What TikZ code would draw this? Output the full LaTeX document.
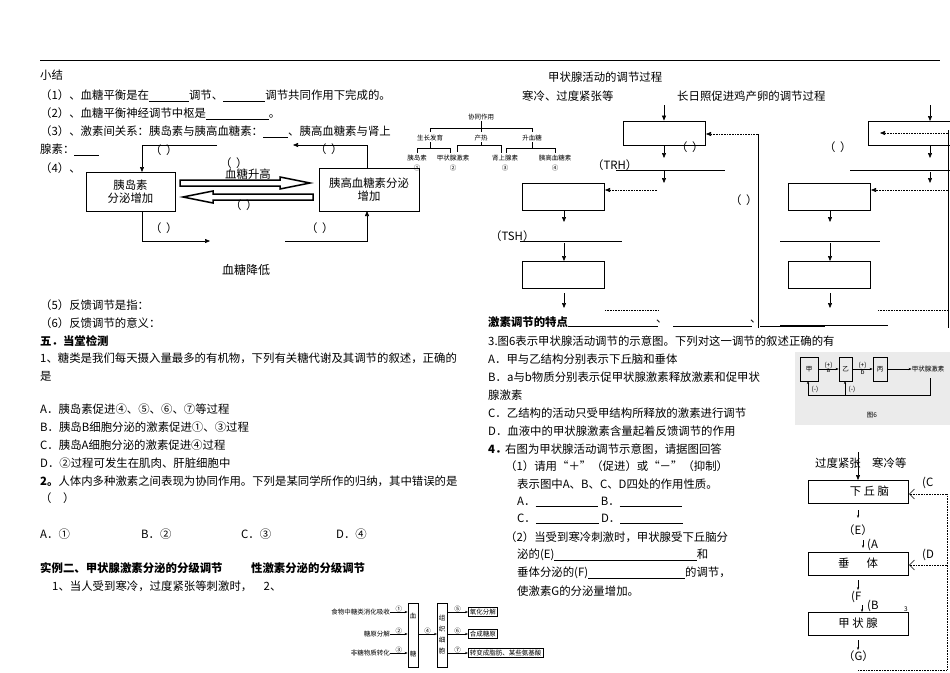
\documentclass[tikz,border=0pt]{standalone}
\usepackage{fontspec}
\setmainfont{Noto Sans CJK SC}
\usetikzlibrary{arrows.meta}
\newcommand{\fs}{\fontsize{11.4}{13}\selectfont}
\begin{document}
\begin{tikzpicture}[x=1pt,y=-1pt,
  t/.style={anchor=west,inner sep=0pt,font=\fs},
  s/.style={inner sep=0pt,font=\fontsize{6.5}{8}\selectfont},
  bx/.style={draw,line width=0.8pt,inner sep=0pt},
  ar/.style={-{Triangle[length=5pt,width=4pt]},line width=0.6pt},
  dar/.style={densely dotted,-{Triangle[length=5pt,width=4pt]},line width=0.6pt},
  sa/.style={-{Stealth[length=3pt]},line width=0.4pt}]
\useasboundingbox (0,0) rectangle (950,672);
\draw[line width=1pt] (40,60) -- (940,60);
% left text
\node[t] (l1) at (40,75) {小结};
\node[t] at (40,96) {（1）、血糖平衡是在\underline{\hspace{3.5em}}调节、\underline{\hspace{3.7em}}调节共同作用下完成的。};
\node[t] at (40,114) {（2）、血糖平衡神经调节中枢是\underline{\hspace{5.5em}}。};
\node[t] at (40,132) {（3）、激素间关系：胰岛素与胰高血糖素：\underline{\hspace{2.2em}}、胰高血糖素与肾上};
\node[t] at (40,150) {腺素：\underline{\hspace{2.2em}}};
\node[t] at (40,168) {（4）、};
% diagram 1
\node[bx,minimum width=89,minimum height=39,align=center,font=\fs] (ins) at (130.5,191.5) {胰岛素\\分泌增加};
\node[bx,minimum width=100,minimum height=43,align=center,font=\fs] (glu) at (369,189.5) {胰高血糖素分泌\\增加};
\coordinate (ul) at (217,145);
\draw[ar] (ul) -- (142,145) -- (142,172);
\node[t] at (150,150) {（\ \,）};
\coordinate (ur) at (293,145);
\draw[ar] (367,168) -- (367,145) -- (ur);
\node[t] at (315,149) {（\ \,）};
\draw[line width=1.5pt] (180,180)--(280,180)--(280,177)--(310,183)--(280,189)--(280,186)--(180,186)--cycle;
\draw[line width=1.5pt] (313,194)--(213,194)--(213,191)--(183,197)--(213,203)--(213,200)--(313,200)--cycle;
\node[t,font=\fs\itshape] at (225,174) {血糖升高};
\node[t] at (230,205) {（\ \,）};
\node[t] at (220,163) {（\ \,）};
\coordinate (bl) at (210,241);
\draw[ar] (142,211) -- (142,241) -- (bl);
\node[t] at (150,228) {（\ \,）};
\coordinate (br) at (285,241);
\draw[ar] (br) -- (367,241) -- (367,211);
\node[t] at (306,228) {（\ \,）};
\node[t,font=\fontsize{12}{13}\selectfont\itshape] at (222,270) {血糖降低};
% coordination tree
\node[s] (xt) at (481,117) {协同作用};
\draw[line width=0.4pt] (430,128)--(532,128) (430,128)--(430,132) (532,128)--(532,132) (481,121)--(481,132);
\node[s] (g1) at (430,138) {生长发育};
\node[s] (g2) at (481,138) {产热};
\node[s] (g3) at (532,138) {升血糖};
\draw[line width=0.4pt] (417,148)--(450,148) (417,148)--(417,153) (450,148)--(450,153) (430,142)--(430,148);
\draw[line width=0.4pt] (457,145)--(501,145) (457,145)--(457,152) (501,145)--(501,153) (481,142)--(481,145);
\draw[line width=0.4pt] (506,148)--(555,148) (506,148)--(506,153) (555,148)--(555,153) (532,142)--(532,148);
\node[s] at (417,158) {胰岛素}; \node[s] at (417,168) {①};
\node[s] at (453,158) {甲状腺激素}; \node[s] at (453,168) {②};
\node[s] at (505,158) {肾上腺素}; \node[s] at (505,168) {③};
\node[s] at (555,158) {胰高血糖素}; \node[s] at (555,168) {④};
% right top flowcharts
\node[t] at (548,77) {甲状腺活动的调节过程};
\node[t] at (522,96) {寒冷、过度紧张等};
\node[t] at (677,96) {长日照促进鸡产卵的调节过程};
\node[bx,minimum width=82,minimum height=24] (a1) at (664,133) {};
\node[bx,minimum width=82,minimum height=27] (a2) at (563,196.5) {};
\node[bx,minimum width=82,minimum height=27] (a3) at (563,274.5) {};
\draw[ar] (664,105) -- (a1.north);
\draw[ar] (a1.south) -- (664,158);
\node[t] at (676,147) {（\ \,）};
\node[t] at (592,165) {（TRH）};
\draw[line width=0.6pt] (616,170)--(725,170);
\draw[ar] (664,170)--(664,183);
\coordinate (d1) at (657,190);
\draw[dar] (d1) -- (605,190);
\draw[ar] (564,210)--(564,222);
\node[t] at (490,236) {（TSH）};
\draw[line width=0.6pt] (520,241)--(622,241);
\draw[ar] (564,243)--(564,261);
\draw[ar] (564,293)--(564,308);
\draw[densely dotted,line width=0.6pt] (605,310)--(658,310);
\draw[line width=0.6pt] (758,328)--(758,134);
\draw[dar] (758,134)--(706,134);
\node[t] at (730,200) {（\ \,）};
\node[bx,minimum width=90,minimum height=24] (b1) at (913,133) {};
\node[bx,minimum width=82,minimum height=27] (b2) at (829,196.5) {};
\node[bx,minimum width=82,minimum height=27] (b3) at (829,274.5) {};
\draw[ar] (930,105)--(930,121);
\draw[dar] (948,133)--(880,133);
\draw[ar] (930,145)--(930,158);
\node[t] at (824,147) {（\ \,）};
\draw[line width=0.6pt] (850,170)--(950,170);
\draw[ar] (930,172)--(930,183);
\draw[dar] (948,190)--(871,190);
\draw[ar] (830,210)--(830,222);
\draw[line width=0.6pt] (780,241)--(880,241);
\draw[ar] (830,243)--(830,261);
\draw[ar] (830,293)--(830,308);
\draw[densely dotted,line width=0.6pt] (878,310)--(948,310);
\draw[line width=0.6pt] (948,130)--(948,328);
\node[t,font=\fs\bfseries] at (488,322) {激素调节的特点};
\draw[line width=0.5pt] (568,326)--(658,326) (673,326)--(752,326) (760,326)--(825,326) (780,325)--(888,325);
\node[t] at (656,322) {、}; \node[t] at (750,322) {、};
% Q3
\node[t] at (488,341) {3.图6表示甲状腺活动调节的示意图。下列对这一调节的叙述正确的有};
\node[t] at (488,359) {A．甲与乙结构分别表示下丘脑和垂体};
\node[t] at (488,377) {B．a与b物质分别表示促甲状腺激素释放激素和促甲状};
\node[t] at (488,395) {腺激素};
\node[t] at (488,413) {C．乙结构的活动只受甲结构所释放的激素进行调节};
\node[t] at (488,431) {D．血液中的甲状腺激素含量起着反馈调节的作用};
\node[t,font=\fs\bfseries] at (488,449) {4．};
\node[t] at (505,449) {右图为甲状腺活动调节示意图，请据图回答};
\node[t] at (505,466) {（1）请用“＋”（促进）或“－”（抑制）};
\node[t] at (517,484) {表示图中A、B、C、D四处的作用性质。};
\node[t] at (517,502) {A．\underline{\hspace{5.5em}} B．\underline{\hspace{5.5em}}};
\node[t] at (517,519) {C．\underline{\hspace{5.5em}} D．\underline{\hspace{5.5em}}};
\node[t] at (505,537) {（2）当受到寒冷刺激时，甲状腺受下丘脑分};
\node[t] at (517,555) {泌的(E)\underline{\hspace{12.5em}}和};
\node[t] at (517,573) {垂体分泌的(F)\underline{\hspace{8.5em}}的调节，};
\node[t] at (517,591) {使激素G的分泌量增加。};
% figure 6
\fill[black!8] (795,352) rectangle (950,425);
\node[bx,minimum width=18,minimum height=24,s] (f1) at (809,369) {甲};
\node[bx,minimum width=13,minimum height=24,s] (f2) at (845.5,369) {乙};
\node[bx,minimum width=14,minimum height=24,s] (f3) at (880,369) {丙};
\node[s] (f4) at (928,369) {甲状腺激素};
\draw[sa] (f1)--(f2) node[midway,above,s] {(+)} node[midway,below,s] {a};
\draw[sa] (f2)--(f3) node[midway,above,s] {(+)} node[midway,below,s] {b};
\draw[sa] (f3)--(f4.west);
\draw[line width=0.4pt] (930,378)--(930,395)--(808,395);
\draw[sa] (808,395)--(808,381);
\draw[sa] (845,395)--(845,381);
\node[s] at (815,389) {(-)}; \node[s] at (852,389) {(-)};
\node[s] at (872,415) {图6};
% Q4 flowchart
\node[t] at (815,463) {过度紧张　寒冷等};
\node[bx,minimum width=100,minimum height=23,font=\fs] (h1) at (858,491.5) {\hspace{2em}下 丘 脑};
\node[bx,minimum width=100,minimum height=23,font=\fs] (h2) at (858,563.5) {垂\hspace{1.5em}体};
\node[bx,minimum width=100,minimum height=23,font=\fs] (h3) at (858,623.5) {甲 状 腺};
\draw[ar] (858,452)--(858,480);
\draw[sa] (858,510)--(858,518);
\node[t] at (843,530) {（E）};
\draw[sa] (863,540)--(863,548);
\node[t] at (867,545) {(A};
\draw[sa] (858,580)--(858,590);
\node[t] at (851,597) {(F};
\draw[sa] (862,605)--(862,612);
\node[t] at (867,606) {(B};
\node[s] at (906,609) {3};
\draw[sa] (858,640)--(858,650);
\node[t] at (843,656) {（G）};
\node[t] at (922,483) {(C};
\node[t] at (922,555) {(D};
\draw[densely dotted,line width=0.6pt] (858,670)--(947,670)--(947,494);
\draw[densely dotted,-{Straight Barb[length=5pt]},line width=0.6pt] (947,494)--(909,494);
\draw[densely dotted,-{Straight Barb[length=5pt]},line width=0.6pt] (947,565)--(909,565);
% left lower text
\node[t] at (40,305) {（5）反馈调节是指：};
\node[t] at (40,323) {（6）反馈调节的意义：};
\node[t,font=\fs\bfseries] at (40,341) {五．当堂检测};
\node[t] at (40,358) {1、糖类是我们每天摄入量最多的有机物，下列有关糖代谢及其调节的叙述，正确的};
\node[t] at (40,376) {是};
\node[t] at (40,409) {A．胰岛素促进④、⑤、⑥、⑦等过程};
\node[t] at (40,427) {B．胰岛B细胞分泌的激素促进①、③过程};
\node[t] at (40,445) {C．胰岛A细胞分泌的激素促进④过程};
\node[t] at (40,463) {D．②过程可发生在肌肉、肝脏细胞中};
\node[t] at (40,481) {\textbf{2。}人体内多种激素之间表现为协同作用。下列是某同学所作的归纳，其中错误的是};
\node[t] at (40,498) {（\quad）};
\node[t] at (40,534) {A．①}; \node[t] at (141,534) {B．②};
\node[t] at (241,534) {C．③}; \node[t] at (336,534) {D．④};
\node[t,font=\fs\bfseries] at (40,568) {实例二、甲状腺激素分泌的分级调节\hspace{2.5em}性激素分泌的分级调节};
\node[t] at (52,586) {1、当人受到寒冷，过度紧张等刺激时，\hspace{1em}2、};
% bottom middle
\node[bx,minimum width=10,minimum height=64,s,align=center] (xt2) at (413,635) {血\\[30pt]糖};
\node[bx,minimum width=10,minimum height=64,s,align=center] (zz) at (442,635) {组\\[3pt]织\\[3pt]细\\[3pt]胞};
\node[s,anchor=east] (i1) at (390,612) {食物中糖类消化吸收};
\node[s,anchor=east] (i2) at (390,634) {糖原分解};
\node[s,anchor=east] (i3) at (390,653) {非糖物质转化};
\draw[sa] (i1.east)--(xt2.west |- i1) node[midway,above,s] {①};
\draw[sa] (i2.east)--(xt2.west |- i2) node[midway,above,s] {②};
\draw[sa] (i3.east)--(xt2.west |- i3) node[midway,above,s] {③};
\draw[sa] (418,634)--(437,634) node[midway,above,s] {④};
\node[bx,s,anchor=west,inner sep=1.5pt] (o1) at (468,612) {氧化分解};
\node[bx,s,anchor=west,inner sep=1.5pt] (o2) at (468,634) {合成糖原};
\node[bx,s,anchor=west,inner sep=1.5pt] (o3) at (468,653) {转变成脂肪、某些氨基酸};
\draw[sa] (zz.east |- o1)--(o1.west) node[midway,above,s] {⑤};
\draw[sa] (zz.east |- o2)--(o2.west) node[midway,above,s] {⑥};
\draw[sa] (zz.east |- o3)--(o3.west) node[midway,above,s] {⑦};
\end{tikzpicture}
\end{document}
